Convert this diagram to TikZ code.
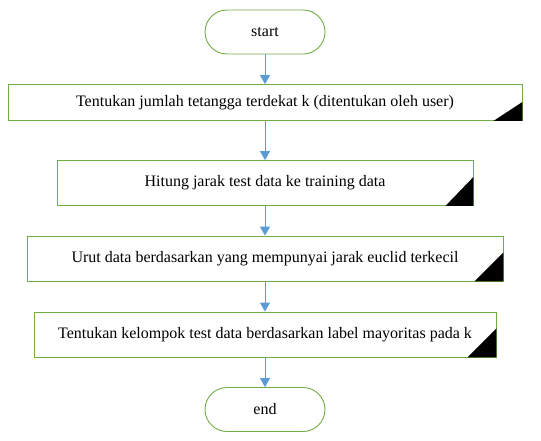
\documentclass[tikz,border=0pt]{standalone}
\usepackage{fontspec}
\setmainfont{Liberation Serif}
\usetikzlibrary{arrows.meta}
\definecolor{boxgreen}{HTML}{70AD47}
\definecolor{arrowblue}{HTML}{5B9BD5}

\begin{document}
\begin{tikzpicture}[x=1pt,y=-1pt]
\tikzstyle{every node}+=[inner sep=0pt, font=\fontsize{16}{18}\selectfont]
\tikzstyle{term}=[draw=boxgreen, line width=0.9pt, rounded corners=22pt, minimum width=120pt, minimum height=44pt]
\tikzstyle{proc}=[draw=boxgreen, line width=0.9pt, minimum height=45pt]
\tikzstyle{flow}=[draw=arrowblue, line width=0.9pt, -{Triangle[length=9pt,width=10pt]}]
\useasboundingbox (0,0) rectangle (541,440);
\node [term] (start) at (265,32) {start};
\node [proc, minimum width=514pt, minimum height=36pt] (b1) at (265,102.5) {Tentukan jumlah tetangga terdekat k (ditentukan oleh user)};
\node [proc, minimum width=416pt] (b2) at (265,183) {Hitung jarak test data ke training data};
\node [proc, minimum width=476pt] (b3) at (265,258.5) {Urut data berdasarkan yang mempunyai jarak euclid terkecil};
\node [proc, minimum width=462pt] (b4) at (265,334.5) {Tentukan kelompok test data berdasarkan label mayoritas pada k};
\node [term] (end) at (265,409.5) {end};
\fill [black] (b1.south east) -- ++(-29,0) -- ++(29,-19) -- cycle;
\fill [black] (b2.south east) -- ++(-28,0) -- ++(28,-29) -- cycle;
\fill [black] (b3.south east) -- ++(-29,0) -- ++(29,-29) -- cycle;
\fill [black] (b4.south east) -- ++(-29,0) -- ++(29,-29) -- cycle;
\draw [flow] (start) -- (b1);
\draw [flow] (b1) -- (b2);
\draw [flow] (b2) -- (b3);
\draw [flow] (b3) -- (b4);
\draw [flow] (b4) -- (end);
\end{tikzpicture}
\end{document}
